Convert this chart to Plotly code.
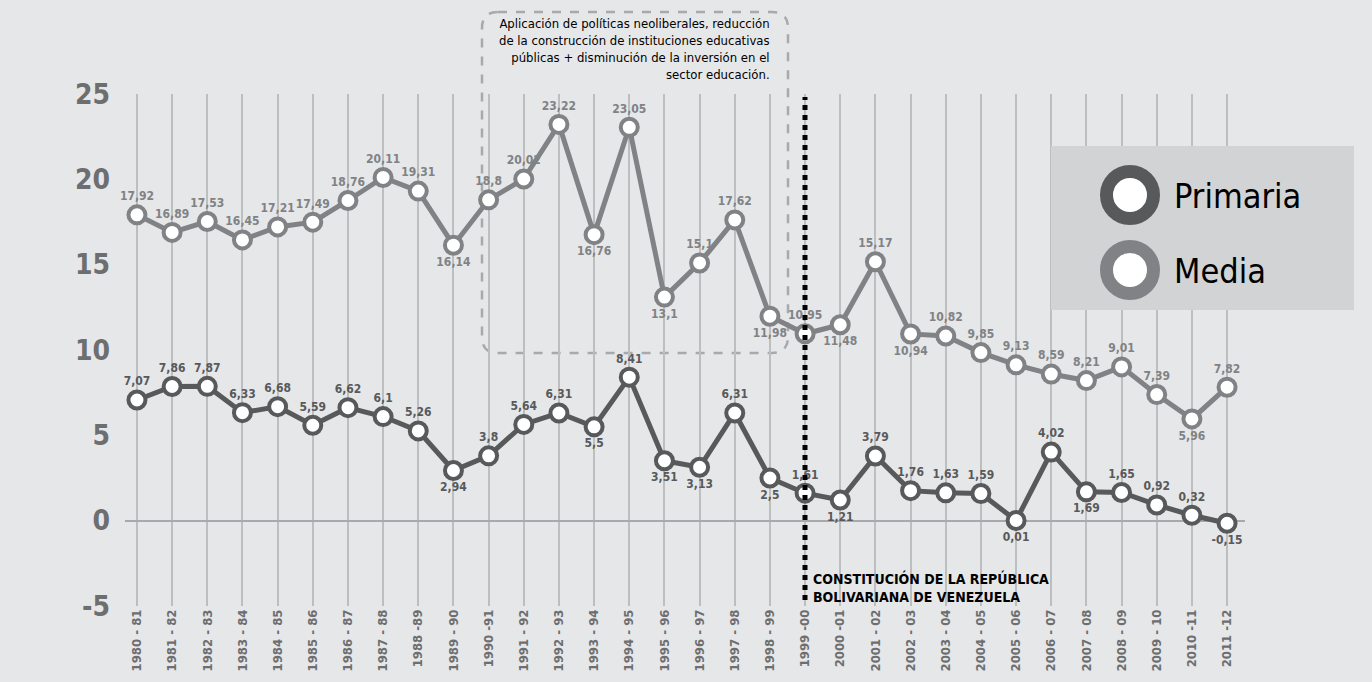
import plotly.graph_objects as go

# school years (x categories)
periodos = [
    "1980 - 81", "1981 - 82", "1982 - 83", "1983 - 84", "1984 - 85", "1985 - 86",
    "1986 - 87", "1987 - 88", "1988 -89", "1989 - 90", "1990 -91", "1991 - 92",
    "1992 - 93", "1993 - 94", "1994 - 95", "1995 - 96", "1996 - 97", "1997 - 98",
    "1998 - 99", "1999 -00", "2000 -01", "2001 - 02", "2002 - 03", "2003 - 04",
    "2004 - 05", "2005 - 06", "2006 - 07", "2007 - 08", "2008 - 09", "2009 - 10",
    "2010 -11", "2011 -12",
]

primaria = [
    7.07, 7.86, 7.87, 6.33, 6.68, 5.59, 6.62, 6.1, 5.26, 2.94, 3.8, 5.64,
    6.31, 5.5, 8.41, 3.51, 3.13, 6.31, 2.5, 1.61, 1.21, 3.79, 1.76, 1.63,
    1.59, 0.01, 4.02, 1.69, 1.65, 0.92, 0.32, -0.15,
]

media = [
    17.92, 16.89, 17.53, 16.45, 17.21, 17.49, 18.76, 20.11, 19.31, 16.14, 18.8, 20.02,
    23.22, 16.76, 23.05, 13.1, 15.1, 17.62, 11.98, 10.95, 11.48, 15.17, 10.94, 10.82,
    9.85, 9.13, 8.59, 8.21, 9.01, 7.39, 5.96, 7.82,
]

y_ticks = [-5, 0, 5, 10, 15, 20, 25]
y_labels = ["-5", "0", "5", "10", "15", "20", "25"]

# which labels sit below their marker
primaria_below = {"1989 - 90", "1993 - 94", "1995 - 96", "1996 - 97", "1998 - 99",
                  "2000 -01", "2005 - 06", "2007 - 08", "2011 -12"}
media_below = {"1989 - 90", "1993 - 94", "1995 - 96", "1998 - 99", "2000 -01",
               "2002 - 03", "2010 -11"}

W, H = 1372, 682
L, R, T, B = 125, 1245, 94, 606  # plot area in pixels

BG = "#e6e7e8"
DARK = "#58595b"
MID = "#808285"
FONT = "Liberation Sans Narrow, DejaVu Sans Condensed, Arial Narrow, sans-serif"


def px(x):
    return (x - L) / (R - L)


def py(y):
    return (B - y) / (B - T)


def fmt(v):
    return f"{v:g}".replace(".", ",")


def positions(below):
    return ["bottom center" if p in below else "top center" for p in periodos]


fig = go.Figure()

for name, values, color, below in [
    ("Media", media, MID, media_below),
    ("Primaria", primaria, DARK, primaria_below),
]:
    fig.add_trace(go.Scatter(
        x=periodos,
        y=values,
        name=name,
        mode="lines+markers+text",
        line=dict(color=color, width=5),
        marker=dict(size=17, color="white", line=dict(color=color, width=4)),
        text=[fmt(v) for v in values],
        textposition=positions(below),
        textfont=dict(family=FONT, size=12, color=color, weight="bold"),
        cliponaxis=False,
        showlegend=False,
    ))

shapes = []

# dashed rounded box around the neoliberal period
x0, x1, y0, y1 = px(482), px(788), py(353), py(12)
rx, ry = 16 / (R - L), 16 / (B - T)
path = (
    f"M {x0 + rx},{y1} L {x1 - rx},{y1} Q {x1},{y1} {x1},{y1 - ry} "
    f"L {x1},{y0 + ry} Q {x1},{y0} {x1 - rx},{y0} "
    f"L {x0 + rx},{y0} Q {x0},{y0} {x0},{y0 + ry} "
    f"L {x0},{y1 - ry} Q {x0},{y1} {x0 + rx},{y1} Z"
)
shapes.append(dict(type="path", path=path, xref="paper", yref="paper",
                   line=dict(color="#a7a9ac", width=2.5, dash="dash"), layer="between"))

# constitution marker (thick dotted line)
shapes.append(dict(type="line", xref="paper", yref="paper", x0=px(805), x1=px(805),
                   y0=py(600), y1=py(97), line=dict(color="black", width=5, dash="dot"),
                   layer="above"))

# legend box
shapes.append(dict(type="rect", xref="paper", yref="paper",
                   x0=px(1051), x1=px(1354), y0=py(310), y1=py(146),
                   fillcolor="#d1d3d4", line=dict(width=0), layer="above"))
for cy, color in [(195, DARK), (270, MID)]:
    r = 23.5
    shapes.append(dict(type="circle", xref="paper", yref="paper",
                       x0=px(1130 - r), x1=px(1130 + r), y0=py(cy + r), y1=py(cy - r),
                       fillcolor="white", line=dict(color=color, width=13), layer="above"))

annotations = [
    dict(xref="paper", yref="paper", x=px(772), y=py(14), xanchor="right", yanchor="top",
         align="right", showarrow=False,
         text=("Aplicación de políticas neoliberales, reducción<br>"
               "de la construcción de instituciones educativas<br>"
               "públicas + disminución de la inversión en el<br>"
               "sector educación."),
         font=dict(family=FONT, size=13, color="black")),
    dict(xref="paper", yref="paper", x=px(811), y=py(568), xanchor="left", yanchor="top",
         align="left", showarrow=False,
         text="CONSTITUCIÓN DE LA REPÚBLICA<br>BOLIVARIANA DE VENEZUELA",
         font=dict(family=FONT, size=14, color="black", weight="bold")),
    dict(xref="paper", yref="paper", x=px(1172), y=py(196), xanchor="left", yanchor="middle",
         showarrow=False, text="Primaria", font=dict(family=FONT, size=34, color="black")),
    dict(xref="paper", yref="paper", x=px(1172), y=py(271), xanchor="left", yanchor="middle",
         showarrow=False, text="Media", font=dict(family=FONT, size=34, color="black")),
]

fig.update_layout(
    width=W,
    height=H,
    margin=dict(l=L, r=W - R, t=T, b=H - B),
    paper_bgcolor=BG,
    plot_bgcolor=BG,
    shapes=shapes,
    annotations=annotations,
    xaxis=dict(
        type="category",
        categoryorder="array",
        categoryarray=periodos,
        range=[-0.34, 31.51],
        tickangle=-90,
        showgrid=True,
        gridcolor="#bcbec0",
        gridwidth=1.5,
        showline=False,
        ticks="",
        tickfont=dict(family=FONT, size=13, color="#6d6e70", weight="bold"),
    ),
    yaxis=dict(
        range=[-5, 25],
        tickvals=y_ticks,
        ticktext=y_labels,
        showgrid=False,
        zeroline=True,
        zerolinecolor="#a7a9ac",
        zerolinewidth=1.5,
        showline=False,
        ticks="",
        ticklabelstandoff=14,
        tickfont=dict(family=FONT, size=28, color="#6d6e70", weight="bold"),
    ),
)

fig.write_html("out.html", config={"displayModeBar": False},
               post_script="document.body.style.margin = '0';")
